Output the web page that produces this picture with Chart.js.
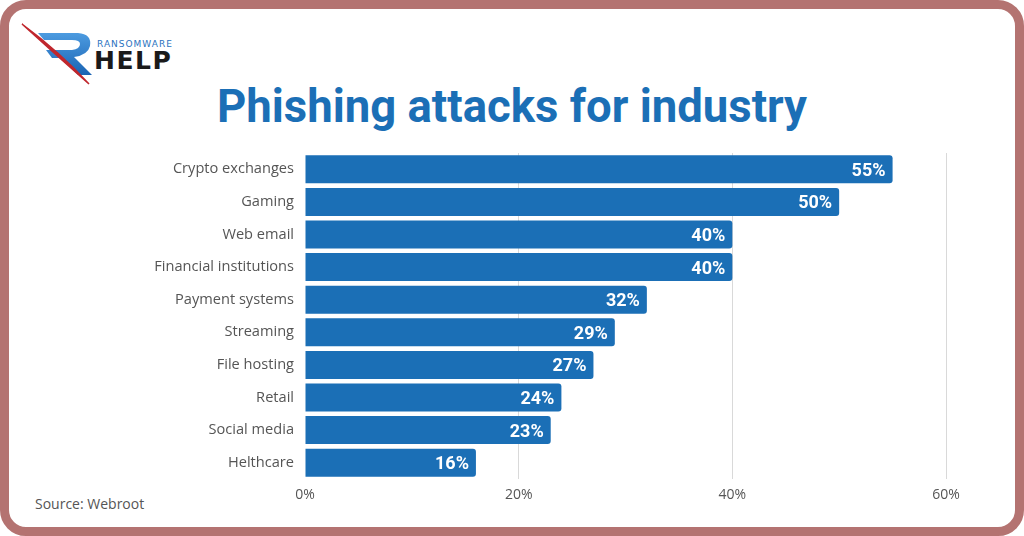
<!DOCTYPE html>
<html>
<head>
<meta charset="utf-8">
<script src="https://cdn.jsdelivr.net/npm/chart.js@4"></script>
<style>
  html, body { margin: 0; padding: 0; background: #fff; }
  #page { position: relative; width: 1024px; height: 536px; overflow: hidden; background: #fff; }
  #frame {
    position: absolute; left: 0; top: 0; width: 1024px; height: 536px;
    box-sizing: border-box; border: 9px solid #b47371; border-radius: 26px;
  }
  #title {
    position: absolute; left: 0; width: 1024px; top: 80px; text-align: center;
    font: bold 45.5px Roboto, sans-serif; color: #1b6fb6; line-height: 1.17;
  }
  #source {
    position: absolute; left: 35px; top: 494px;
    font: 14px "Open Sans", sans-serif; color: #555;
  }
  #logo { position: absolute; left: 0; top: 0; }
  #wrap { position: absolute; left: 0; top: 0; width: 1024px; height: 536px; }
</style>
</head>
<body>
<div id="page">
  <div id="frame"></div>
  <svg id="logo" width="200" height="100" viewBox="0 0 200 100">
    <defs>
      <linearGradient id="rg" x1="0" y1="0" x2="0" y2="1">
        <stop offset="0" stop-color="#4c9be0"/>
        <stop offset="1" stop-color="#1a64b4"/>
      </linearGradient>
    </defs>
    <path d="M38,33 L78,33 Q92,34 90,46 Q88,55 74,57 L92,75 L78,75 L62,58 L52,58 L46,50 L72,50 Q80,49 80,44 Q80,40 72,40 L44,40 Z" fill="url(#rg)"/>
    <path d="M22,24 Q60,52 89,84 Q56,55 22,24 Z" fill="#c0272d" stroke="#c0272d" stroke-width="1.5"/>
    <text x="97" y="47" font-family="DejaVu Sans" font-size="9" letter-spacing="1" fill="#2a72c0">RANSOMWARE</text>
    <text x="94" y="69" font-family="DejaVu Sans" font-weight="bold" font-size="25" letter-spacing="1.5" fill="#1a1a1a">HELP</text>
  </svg>
  <div id="title">Phishing attacks for industry</div>
  <div id="source">Source: Webroot</div>
  <div id="wrap"><canvas id="chart"></canvas></div>
</div>
<script>
const categories = ['Crypto exchanges', 'Gaming', 'Web email', 'Financial institutions', 'Payment systems',
  'Streaming', 'File hosting', 'Retail', 'Social media', 'Helthcare'];
const values = [55, 50, 40, 40, 32, 29, 27, 24, 23, 16];
const xTicks = [0, 20, 40, 60];

// value labels at the end of each bar
const valueLabels = {
  id: 'valueLabels',
  afterDatasetsDraw(chart) {
    const ctx = chart.ctx;
    const meta = chart.getDatasetMeta(0);
    ctx.save();
    ctx.fillStyle = '#fff';
    ctx.font = 'bold 18px Roboto';
    ctx.textAlign = 'right';
    ctx.textBaseline = 'middle';
    meta.data.forEach((bar, i) => {
      ctx.fillText(values[i] + '%', bar.x - 7, bar.y + 2);
    });
    ctx.restore();
  }
};

new Chart(document.getElementById('chart'), {
  type: 'bar',
  data: {
    labels: categories,
    datasets: [{
      data: values,
      backgroundColor: '#1b6fb6',
      borderRadius: 3,
      borderSkipped: 'start',
      barPercentage: 0.86,
      categoryPercentage: 1
    }]
  },
  options: {
    indexAxis: 'y',
    responsive: true,
    maintainAspectRatio: false,
    animation: false,
    layout: { padding: { left: 0, right: 78, top: 153, bottom: 27 } },
    plugins: { legend: { display: false }, tooltip: { enabled: false } },
    scales: {
      x: {
        min: 0, max: 60,
        afterFit(scale) { scale.height = 30; },
        afterBuildTicks(scale) { scale.ticks = xTicks.map(v => ({ value: v })); },
        border: { display: false },
        grid: {
          color: ctx => ctx.tick && ctx.tick.value === 0 ? 'rgba(0,0,0,0)' : '#d9d9d9',
          drawTicks: false
        },
        ticks: {
          padding: 8,
          color: '#555',
          font: { family: 'Open Sans', size: 14 },
          callback: v => v + '%'
        }
      },
      y: {
        afterFit(scale) { scale.width = 305; },
        border: { display: false },
        grid: { display: false },
        ticks: {
          padding: 3,
          color: '#555',
          font: { family: 'Open Sans', size: 14.6, lineHeight: 1.0 }
        }
      }
    }
  },
  plugins: [valueLabels]
});
</script>
</body>
</html>
